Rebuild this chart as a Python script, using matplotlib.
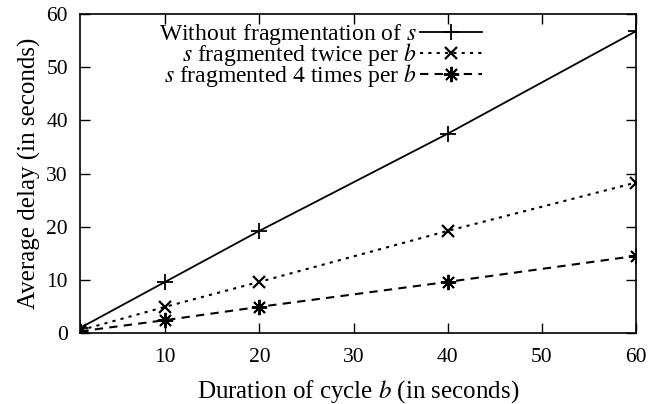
import matplotlib
matplotlib.use('Agg')
import matplotlib.pyplot as plt

plt.rcParams['font.family'] = ['Liberation Serif', 'DejaVu Serif']
plt.rcParams['mathtext.fontset'] = 'stix'

# data
cycle = [1, 10, 20, 40, 60]
no_frag = [0.95, 9.6, 19.2, 37.5, 56.8]
frag2 = [0.5, 4.9, 9.6, 19.2, 28.3]
frag4 = [0.3, 2.4, 4.9, 9.6, 14.5]
labels = ['Without fragmentation of $s$', '$s$ fragmented twice per $b$', '$s$ fragmented 4 times per $b$']
xticks = [10, 20, 30, 40, 50, 60]
yticks = [0, 10, 20, 30, 40, 50, 60]

fig, ax = plt.subplots(figsize=(6.64, 4.04), dpi=100)
fig.subplots_adjust(left=0.121, right=0.958, top=0.965, bottom=0.176)

ax.plot(cycle, no_frag, color='black', lw=1.3, ls='-', marker='+', ms=11, mew=1.3, label=labels[0])
ax.plot(cycle, frag2, color='black', lw=1.5, ls=(0, (1.5, 2.5)), marker='x', ms=9, mew=1.6, label=labels[1])
ax.plot(cycle, frag4, color='black', lw=1.5, ls=(0, (4, 3)), marker=(8, 2, 0), ms=11, mew=1.4, label=labels[2])

ax.set_xlim(1, 60)
ax.set_ylim(0, 60)
ax.set_xticks(xticks)
ax.set_yticks(yticks)
ax.tick_params(direction='in', top=True, right=True, length=7, width=1, labelsize=15.5)
ax.tick_params(axis='x', pad=11)
ax.tick_params(axis='y', pad=9)
for s in ax.spines.values():
    s.set_linewidth(1.2)

ax.set_xlabel('Duration of cycle $b$ (in seconds)', fontsize=18, labelpad=8)
ax.set_ylabel('Average delay (in seconds)', fontsize=18, labelpad=4)

ax.legend(loc='upper right', bbox_to_anchor=(0.722, 0.975), frameon=False, markerfirst=False,
          fontsize=17, handlelength=2.6, handletextpad=0.15, labelspacing=-0.25, borderpad=0,
          borderaxespad=0)

fig.savefig('out.png', dpi=100)
